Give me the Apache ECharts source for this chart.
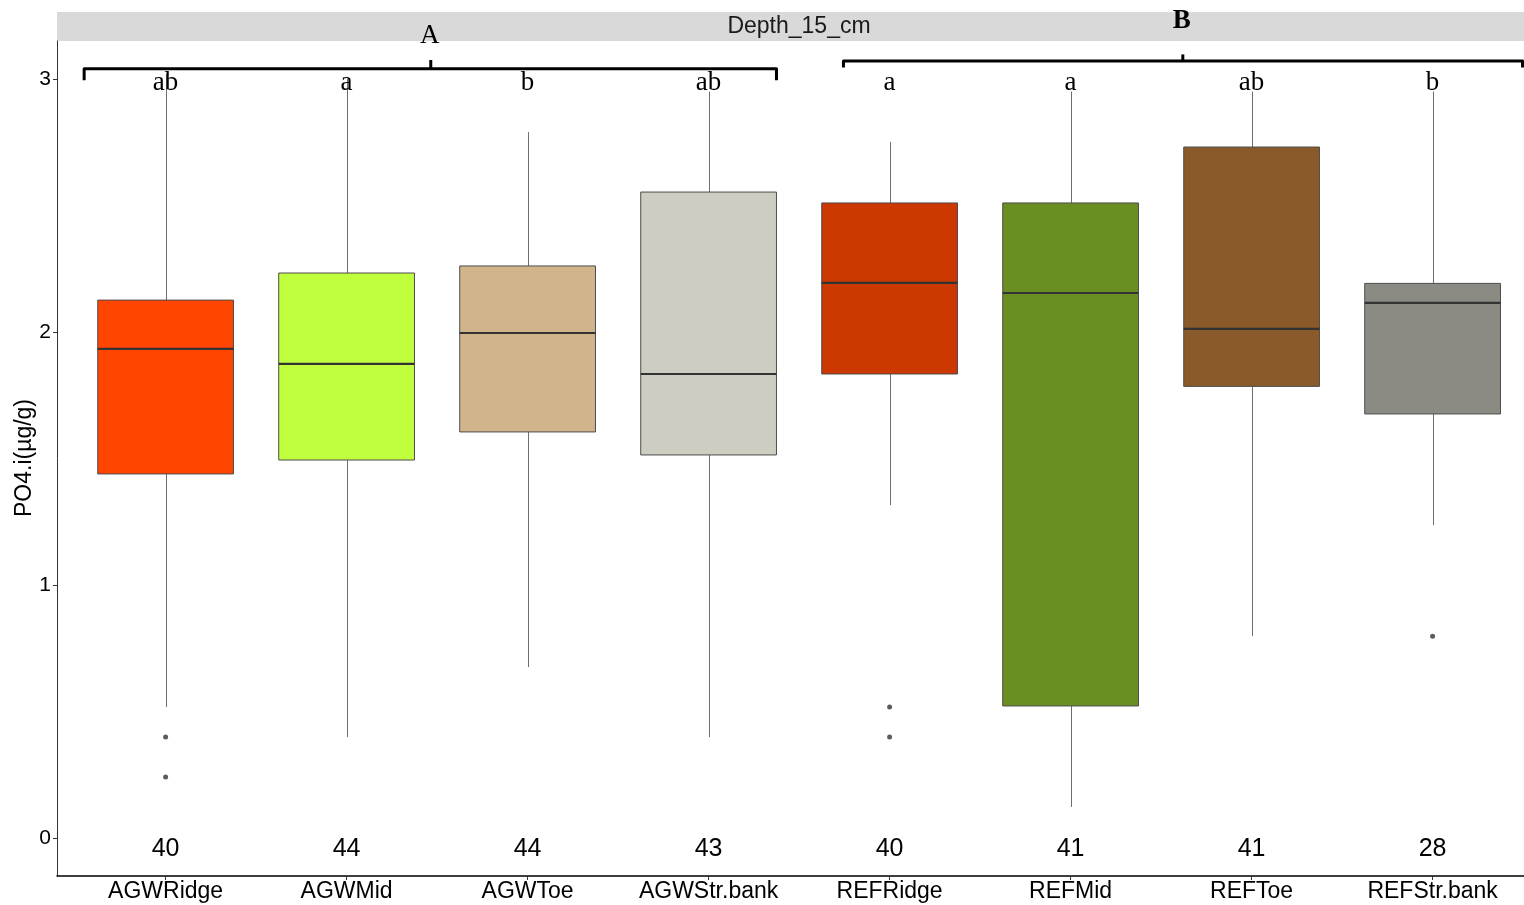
<!DOCTYPE html>
<html>
<head>
<meta charset="utf-8">
<script src="https://cdn.jsdelivr.net/npm/echarts@6/dist/echarts.min.js"></script>
<style>
  html, body { margin: 0; padding: 0; background: #fff; }
  #chart { width: 1524px; height: 905px; }
</style>
</head>
<body>
<div id="chart"></div>
<script>
// Site groups along the transect, PO4 at 15 cm depth
const categories = ['AGWRidge', 'AGWMid', 'AGWToe', 'AGWStr.bank', 'REFRidge', 'REFMid', 'REFToe', 'REFStr.bank'];
const whiskerLow  = [0.518, 0.399, 0.676, 0.399, 1.316, 0.123, 0.798, 1.237];
const lowerQ      = [1.439, 1.494, 1.605, 1.514, 1.834, 0.522, 1.785, 1.676];
const medians     = [1.933, 1.874, 1.996, 1.834, 2.194, 2.154, 2.012, 2.115];
const upperQ      = [2.126, 2.233, 2.261, 2.553, 2.510, 2.510, 2.731, 2.192];
const whiskerHigh = [3.020, 3.000, 2.790, 2.950, 2.751, 2.950, 2.950, 2.950];
const boxColors   = ['#FF4500', '#C0FF3E', '#D2B48C', '#CDCDC1', '#CD3700', '#6B8E23', '#8B5A2B', '#8B8B83'];
// outliers as [group index, value]
const outliers = [[0, 0.399], [0, 0.241], [4, 0.518], [4, 0.399], [7, 0.798]];
// sample sizes and significance letters per group
const counts  = [40, 44, 44, 43, 40, 41, 41, 28];
const letters = ['ab', 'a', 'b', 'ab', 'a', 'a', 'ab', 'b'];
const yTicks = [0, 1, 2, 3];
// group brackets: [label, first x, last x, middle x, bar level, end drop, middle rise, label level, bold]
const brackets = [
  ['A', -0.45, 3.375, 1.465, 3.040, 0.045, 0.035, 3.172, false],
  ['B', 3.745, 7.497, 5.62, 3.071, 0.026, 0.026, 3.23, true]
];

const SANS = '"Liberation Sans", Arial, sans-serif';
const SERIF = '"Liberation Serif", "Times New Roman", serif';
const HALF = 0.375;
const COUNT_LEVEL = -0.044;
const LETTER_LEVEL = 2.985;

const boxData = categories.map((c, i) => [i, whiskerLow[i], lowerQ[i], medians[i], upperQ[i], whiskerHigh[i]]);

const chart = echarts.init(document.getElementById('chart'), null, { renderer: 'canvas' });

// plain text drawn at a data position
function textAt(api, x, y, text, font) {
  const p = api.coord([x, y]);
  return {
    type: 'text', x: p[0], y: p[1],
    style: { text: text, font: font, fill: '#000', textAlign: 'center', textVerticalAlign: 'middle' }
  };
}

chart.setOption({
  animation: false,
  backgroundColor: '#ffffff',
  grid: { left: 57, right: 0, top: 41, bottom: 29, containLabel: false, outerBoundsMode: 'none' },
  graphic: [
    { type: 'rect', left: 57, top: 12, shape: { width: 1467, height: 29 }, style: { fill: '#d9d9d9' }, z: -10 },
    { type: 'text', x: 799, y: 27, style: { text: 'Depth_15_cm', font: '23px ' + SANS, fill: '#1a1a1a', textAlign: 'center', textVerticalAlign: 'middle' }, z: -9 },
    // y-axis title
    { type: 'text', x: 25, y: 458, rotation: Math.PI / 2,
      style: { text: 'PO4.i(µg/g)', font: '23px ' + SANS, fill: '#000', textAlign: 'center', textVerticalAlign: 'middle' } }
  ],
  xAxis: {
    type: 'value', min: -0.6, max: 7.505,
    splitLine: { show: false },
    axisLine: { show: true, onZero: false, lineStyle: { color: '#000', width: 1.5 } },
    axisTick: { show: true, customValues: categories.map((c, i) => i), length: 4, lineStyle: { color: '#333' } },
    axisLabel: {
      customValues: categories.map((c, i) => i),
      formatter: v => categories[Math.round(v)] || '',
      color: '#000', fontSize: 23, fontFamily: SANS, margin: 4
    }
  },
  yAxis: {
    type: 'value', min: -0.15, max: 3.15,
    splitLine: { show: false },
    axisLine: { show: true, onZero: false, lineStyle: { color: '#333', width: 1 } },
    axisTick: { show: true, customValues: yTicks, length: 4, lineStyle: { color: '#333' } },
    axisLabel: { customValues: yTicks, color: '#000', fontSize: 21, fontFamily: SANS, margin: 6 }
  },
  series: [
    {
      // boxes with whiskers
      type: 'custom',
      data: boxData,
      encode: { x: 0, y: [1, 2, 3, 4, 5] },
      renderItem: (params, api) => {
        const i = api.value(0);
        const lo = api.coord([i, api.value(1)]);
        const q1 = api.coord([i, api.value(2)]);
        const md = api.coord([i, api.value(3)]);
        const q3 = api.coord([i, api.value(4)]);
        const hi = api.coord([i, api.value(5)]);
        const left = api.coord([i - HALF, 0])[0];
        const right = api.coord([i + HALF, 0])[0];
        const cx = Math.round(lo[0]) + 0.5;
        return {
          type: 'group',
          children: [
            { type: 'line', shape: { x1: cx, y1: hi[1], x2: cx, y2: q3[1] }, style: { stroke: '#6e6e6e', lineWidth: 1 } },
            { type: 'line', shape: { x1: cx, y1: q1[1], x2: cx, y2: lo[1] }, style: { stroke: '#6e6e6e', lineWidth: 1 } },
            { type: 'rect', shape: { x: left, y: q3[1], width: right - left, height: q1[1] - q3[1] },
              style: { fill: boxColors[i], stroke: '#4d4d4d', lineWidth: 1 } },
            { type: 'line', shape: { x1: left, y1: md[1], x2: right, y2: md[1] }, style: { stroke: '#333333', lineWidth: 2.2 } }
          ]
        };
      },
      z: 2
    },
    {
      type: 'scatter',
      data: outliers,
      symbol: 'circle', symbolSize: 5,
      itemStyle: { color: '#333333' },
      z: 3
    },
    {
      // sample sizes under each box and significance letters above
      type: 'custom',
      clip: false,
      data: categories.map((c, i) => [i, COUNT_LEVEL, LETTER_LEVEL]),
      encode: { x: 0, y: [1, 2] },
      renderItem: (params, api) => {
        const i = params.dataIndex;
        return {
          type: 'group',
          children: [
            textAt(api, i, COUNT_LEVEL, String(counts[i]), '25px ' + SANS),
            textAt(api, i, LETTER_LEVEL, letters[i], '27px ' + SERIF)
          ]
        };
      },
      z: 4
    },
    {
      // group brackets
      type: 'custom',
      clip: false,
      data: brackets.map(b => [b[1], b[4], b[2], b[3], b[5], b[6], b[7]]),
      encode: { x: [0, 2, 3], y: [1] },
      renderItem: (params, api) => {
        const b = brackets[params.dataIndex];
        const [label, x0, x1, xm, yb, drop, rise, yl, bold] = b;
        const p0 = api.coord([x0, yb - drop]);
        const p1 = api.coord([x0, yb]);
        const p2 = api.coord([x1, yb]);
        const p3 = api.coord([x1, yb - drop]);
        const m0 = api.coord([xm, yb]);
        const m1 = api.coord([xm, yb + rise]);
        const t = api.coord([xm, yl]);
        return {
          type: 'group',
          children: [
            { type: 'polyline', shape: { points: [p0, p1, p2, p3] }, style: { stroke: '#000', lineWidth: 3, fill: null, lineJoin: 'round' } },
            { type: 'line', shape: { x1: m0[0], y1: m0[1], x2: m1[0], y2: m1[1] }, style: { stroke: '#000', lineWidth: 3 } },
            { type: 'text', x: t[0] - 1, y: t[1], style: { text: label, font: (bold ? 'bold ' : '') + '27px ' + SERIF, fill: '#000', textAlign: 'center', textVerticalAlign: 'middle' } }
          ]
        };
      },
      z: 5
    }
  ]
});
</script>
</body>
</html>
